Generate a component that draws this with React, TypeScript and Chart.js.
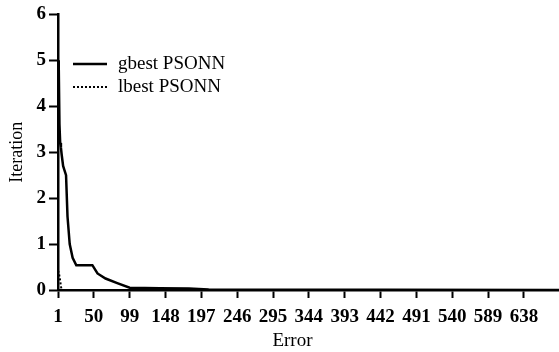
import React, { useEffect, useRef } from "react";
import { Chart, registerables } from "chart.js";

Chart.register(...registerables);

const gbestX = [1, 2, 3, 4, 5, 6, 8, 10, 12, 14, 17, 21, 26, 48, 55, 66, 82, 99, 140, 180, 207, 686];
const gbestY = [5.0, 4.9, 3.6, 3.2, 3.1, 2.95, 2.7, 2.6, 2.5, 1.6, 1.0, 0.7, 0.54, 0.54, 0.36, 0.25, 0.15, 0.05, 0.04, 0.03, 0.01, 0];
const lbestX = [1, 2, 3, 4, 5, 6, 686];
const lbestY = [0.42, 0.38, 0.3, 0.2, 0.08, 0, 0];
const xTicks = [1, 50, 99, 148, 197, 246, 295, 344, 393, 442, 491, 540, 589, 638];
const seriesNames = ["gbest PSONN", "lbest PSONN"];
const xTitle = "Error";
const yTitle = "Iteration";

const FONT = "'Liberation Serif', 'Times New Roman', serif";

const legendPlugin = {
  id: "insideLegend",
  afterDraw(chart: any) {
    const ctx = chart.ctx;
    ctx.save();
    chart.data.datasets.forEach((ds: any, i: number) => {
      const y = 64 + i * 23;
      ctx.strokeStyle = "#000";
      ctx.lineWidth = ds.borderWidth;
      ctx.setLineDash(ds.borderDash || []);
      ctx.beginPath();
      ctx.moveTo(73, y);
      ctx.lineTo(107, y);
      ctx.stroke();
      ctx.setLineDash([]);
      ctx.fillStyle = "#000";
      ctx.font = `19px ${FONT}`;
      ctx.textBaseline = "middle";
      ctx.textAlign = "left";
      ctx.fillText(ds.label, 118, y);
    });
    // x axis title
    const xs = chart.scales.x;
    ctx.font = `19px ${FONT}`;
    ctx.textAlign = "center";
    ctx.textBaseline = "middle";
    ctx.fillStyle = "#000";
    ctx.fillText(xTitle, xs.left + (xs.right - xs.left) * 0.468, 341);
    ctx.restore();
  },
};

export default function App() {
  const ref = useRef<HTMLCanvasElement>(null);
  useEffect(() => {
    document.body.style.margin = "0";
    const ctx = ref.current!;
    const chart = new Chart(ctx, {
      type: "line",
      data: {
        datasets: [
          {
            label: seriesNames[0],
            data: gbestX.map((x, i) => ({ x, y: gbestY[i] })),
            borderColor: "#000",
            borderWidth: 2.5,
            pointRadius: 0,
            tension: 0,
            fill: false,
          },
          {
            label: seriesNames[1],
            data: lbestX.map((x, i) => ({ x, y: lbestY[i] })),
            borderColor: "#000",
            borderWidth: 2,
            borderDash: [2, 2],
            pointRadius: 0,
            tension: 0,
            fill: false,
          },
        ],
      },
      options: {
        animation: false,
        responsive: false,
        layout: { padding: { top: 12, right: 0, left: 0, bottom: 0 } },
        plugins: { legend: { display: false }, tooltip: { enabled: false } },
        scales: {
          x: {
            type: "linear",
            min: 1,
            max: 686,
            afterBuildTicks: (scale: any) => {
              scale.ticks = xTicks.map((v) => ({ value: v }));
            },
            afterFit: (scale: any) => {
              scale.height = 62;
            },
            border: { color: "#000", width: 2.5 },
            grid: { drawOnChartArea: false, drawTicks: true, tickLength: 8, tickColor: "#000", tickWidth: 2 },
            ticks: {
              color: "#000",
              font: { family: FONT, size: 19, weight: "bold" },
              padding: 8,
              maxRotation: 0,
              autoSkip: false,
            },
            title: { display: false },
          },
          y: {
            type: "linear",
            min: 0,
            max: 6,
            afterFit: (scale: any) => {
              scale.width = 58;
            },
            border: { color: "#000", width: 2.5 },
            grid: { drawOnChartArea: false, drawTicks: true, tickLength: 9, tickColor: "#000", tickWidth: 2 },
            ticks: {
              stepSize: 1,
              color: "#000",
              font: { family: FONT, size: 19, weight: "bold" },
              padding: 3,
            },
            title: {
              display: true,
              text: yTitle,
              color: "#000",
              font: { family: FONT, size: 18 },
              padding: { top: 6, bottom: 0 },
            },
          },
        },
      },
      plugins: [legendPlugin],
    });
    return () => chart.destroy();
  }, []);
  return <canvas ref={ref} width={559} height={352} style={{ display: "block" }} />;
}
